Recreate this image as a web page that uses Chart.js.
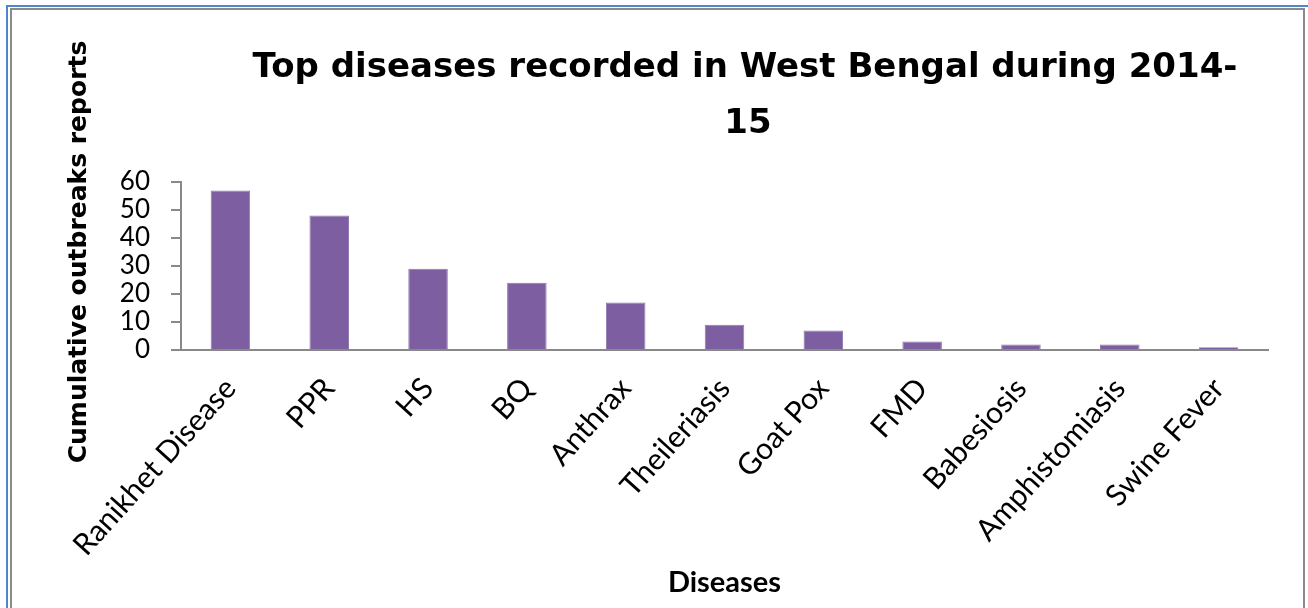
<!DOCTYPE html>
<html>
<head>
<meta charset="utf-8">
<script src="https://cdn.jsdelivr.net/npm/chart.js@4.4.1/dist/chart.umd.min.js"></script>
<style>
  html, body { margin: 0; padding: 0; background: #ffffff; overflow: hidden; }
  #wrap { position: relative; width: 1308px; height: 608px; }
  #outer { position: absolute; left: 6px; top: 5px; width: 1320px; height: 640px; border-left: 2px solid #4f86d0; border-top: 2px solid #4f86d0; }
  #inner { position: absolute; left: 10px; top: 8px; width: 1291px; height: 640px; border: 2px solid #8a8a8a; }
  canvas { position: absolute; left: 0; top: 0; }
</style>
</head>
<body>
<div id="wrap">
  <div id="outer"></div>
  <div id="inner"></div>
  <canvas id="c" width="1308" height="608"></canvas>
</div>
<script>
const categories = ["Ranikhet Disease", "PPR", "HS", "BQ", "Anthrax", "Theileriasis", "Goat Pox", "FMD", "Babesiosis", "Amphistomiasis", "Swine Fever"];
const outbreaks = [57, 48, 29, 24, 17, 9, 7, 3, 2, 2, 1];
const yTicks = [0, 10, 20, 30, 40, 50, 60];
const titleLines = ["Top diseases recorded in West Bengal during 2014-", "15"];
const yAxisTitle = "Cumulative outbreaks reports";
const xAxisTitle = "Diseases";

const titlePlugin = {
  id: 'manualTitles',
  afterDraw(chart) {
    const ctx = chart.ctx;
    ctx.save();
    ctx.fillStyle = '#000';
    ctx.textAlign = 'center';
    ctx.textBaseline = 'alphabetic';
    ctx.font = 'bold 34px "DejaVu Sans"';
    ctx.fillText(titleLines[0], 745, 77);
    ctx.fillText(titleLines[1], 748, 133);
    ctx.translate(86, 252);
    ctx.rotate(-Math.PI / 2);
    ctx.font = 'bold 25px "DejaVu Sans"';
    ctx.fillText(yAxisTitle, 0, 0);
    ctx.restore();
  }
};

const axisGray = '#898989';

new Chart(document.getElementById('c'), {
  type: 'bar',
  data: {
    labels: categories,
    datasets: [{
      data: outbreaks,
      backgroundColor: '#7d5ea1',
      borderColor: '#8f77b0',
      borderWidth: 1,
      categoryPercentage: 1.0,
      barPercentage: 0.4
    }]
  },
  options: {
    responsive: false,
    animation: false,
    devicePixelRatio: 1,
    layout: { padding: { top: 182, right: 40, bottom: 8, left: 0 } },
    plugins: { legend: { display: false }, tooltip: { enabled: false }, title: { display: false } },
    scales: {
      x: {
        afterFit(s) { s.height = 250; },
        grid: { display: true, drawOnChartArea: false, drawTicks: false },
        border: { display: true, color: axisGray, width: 2 },
        ticks: {
          color: '#000',
          font: { family: 'Lato', size: 30 },
          minRotation: 48, maxRotation: 48,
          autoSkip: false,
          padding: 21
        },
        title: {
          display: true,
          text: xAxisTitle,
          color: '#000',
          font: { family: 'Lato', size: 29, weight: 'bold' },
          padding: 0
        }
      },
      y: {
        min: 0, max: 60,
        afterFit(s) { s.width = 181; },
        afterBuildTicks(s) { s.ticks = yTicks.map(v => ({ value: v })); },
        grid: { display: true, drawOnChartArea: false, drawTicks: true, tickLength: 10, color: axisGray, lineWidth: 2 },
        border: { display: true, color: axisGray, width: 2 },
        ticks: {
          color: '#000',
          font: { family: 'Lato', size: 26 },
          padding: 21,
          autoSkip: false
        }
      }
    }
  },
  plugins: [titlePlugin]
});
</script>
</body>
</html>
